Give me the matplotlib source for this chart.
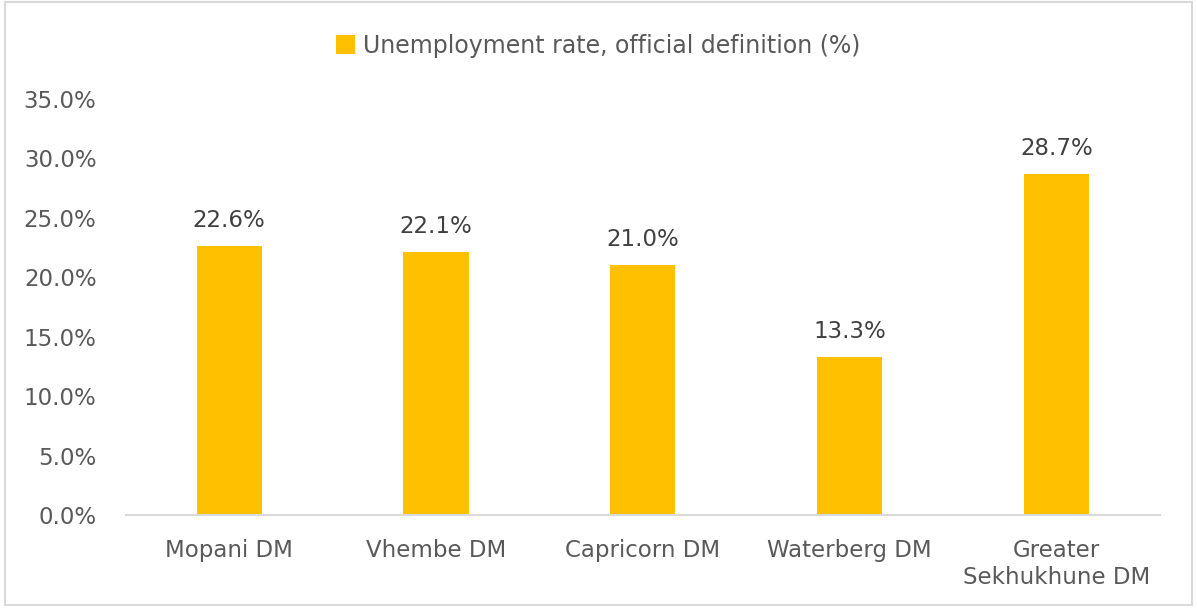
import matplotlib.pyplot as plt
from matplotlib.patches import Rectangle

districts = ['Mopani DM', 'Vhembe DM', 'Capricorn DM', 'Waterberg DM', 'Greater\nSekhukhune DM']
rates = [22.6, 22.1, 21.0, 13.3, 28.7]
yticks = [0, 5, 10, 15, 20, 25, 30, 35]

plt.rcParams['font.family'] = ['DejaVu Sans']

fig = plt.figure(figsize=(11.97, 6.09), dpi=100)
ax = fig.add_axes([0.105, 0.1544, 0.864, 0.6830])

bars = ax.bar(range(len(districts)), rates, width=0.315, color='#FFC000',
              label='Unemployment rate, official definition (%)', zorder=2)
for b, v in zip(bars, rates):
    ax.text(b.get_x() + b.get_width() / 2, v + 1.2, f'{v:.1f}%', ha='center', va='bottom',
            fontsize=16.5, color='#404040')

ax.set_xlim(-0.5, len(districts) - 0.5)
ax.set_ylim(0, 35)
ax.set_yticks(yticks)
ax.set_yticklabels([f'{t:.1f}%' for t in yticks], fontsize=16.5, color='#595959')
ax.set_xticks(range(len(districts)))
ax.set_xticklabels(districts, fontsize=16.5, color='#595959', linespacing=1.25)
ax.tick_params(axis='both', length=0)
ax.tick_params(axis='y', pad=21)
ax.tick_params(axis='x', pad=17)
for s in ['top', 'right', 'left']:
    ax.spines[s].set_visible(False)
ax.spines['bottom'].set_color('#d9d9d9')
ax.spines['bottom'].set_linewidth(1.5)

leg = fig.legend(loc='center', bbox_to_anchor=(0.5, 0.925), frameon=False, fontsize=17,
                 handlelength=0.8, handleheight=0.8, handletextpad=0.35)
for t in leg.get_texts():
    t.set_color('#595959')

fig.patches.append(Rectangle((0.004, 0.006), 0.992, 0.99, transform=fig.transFigure,
                             fill=False, edgecolor='#d9d9d9', linewidth=1.5))

fig.savefig('out.png', dpi=100)
